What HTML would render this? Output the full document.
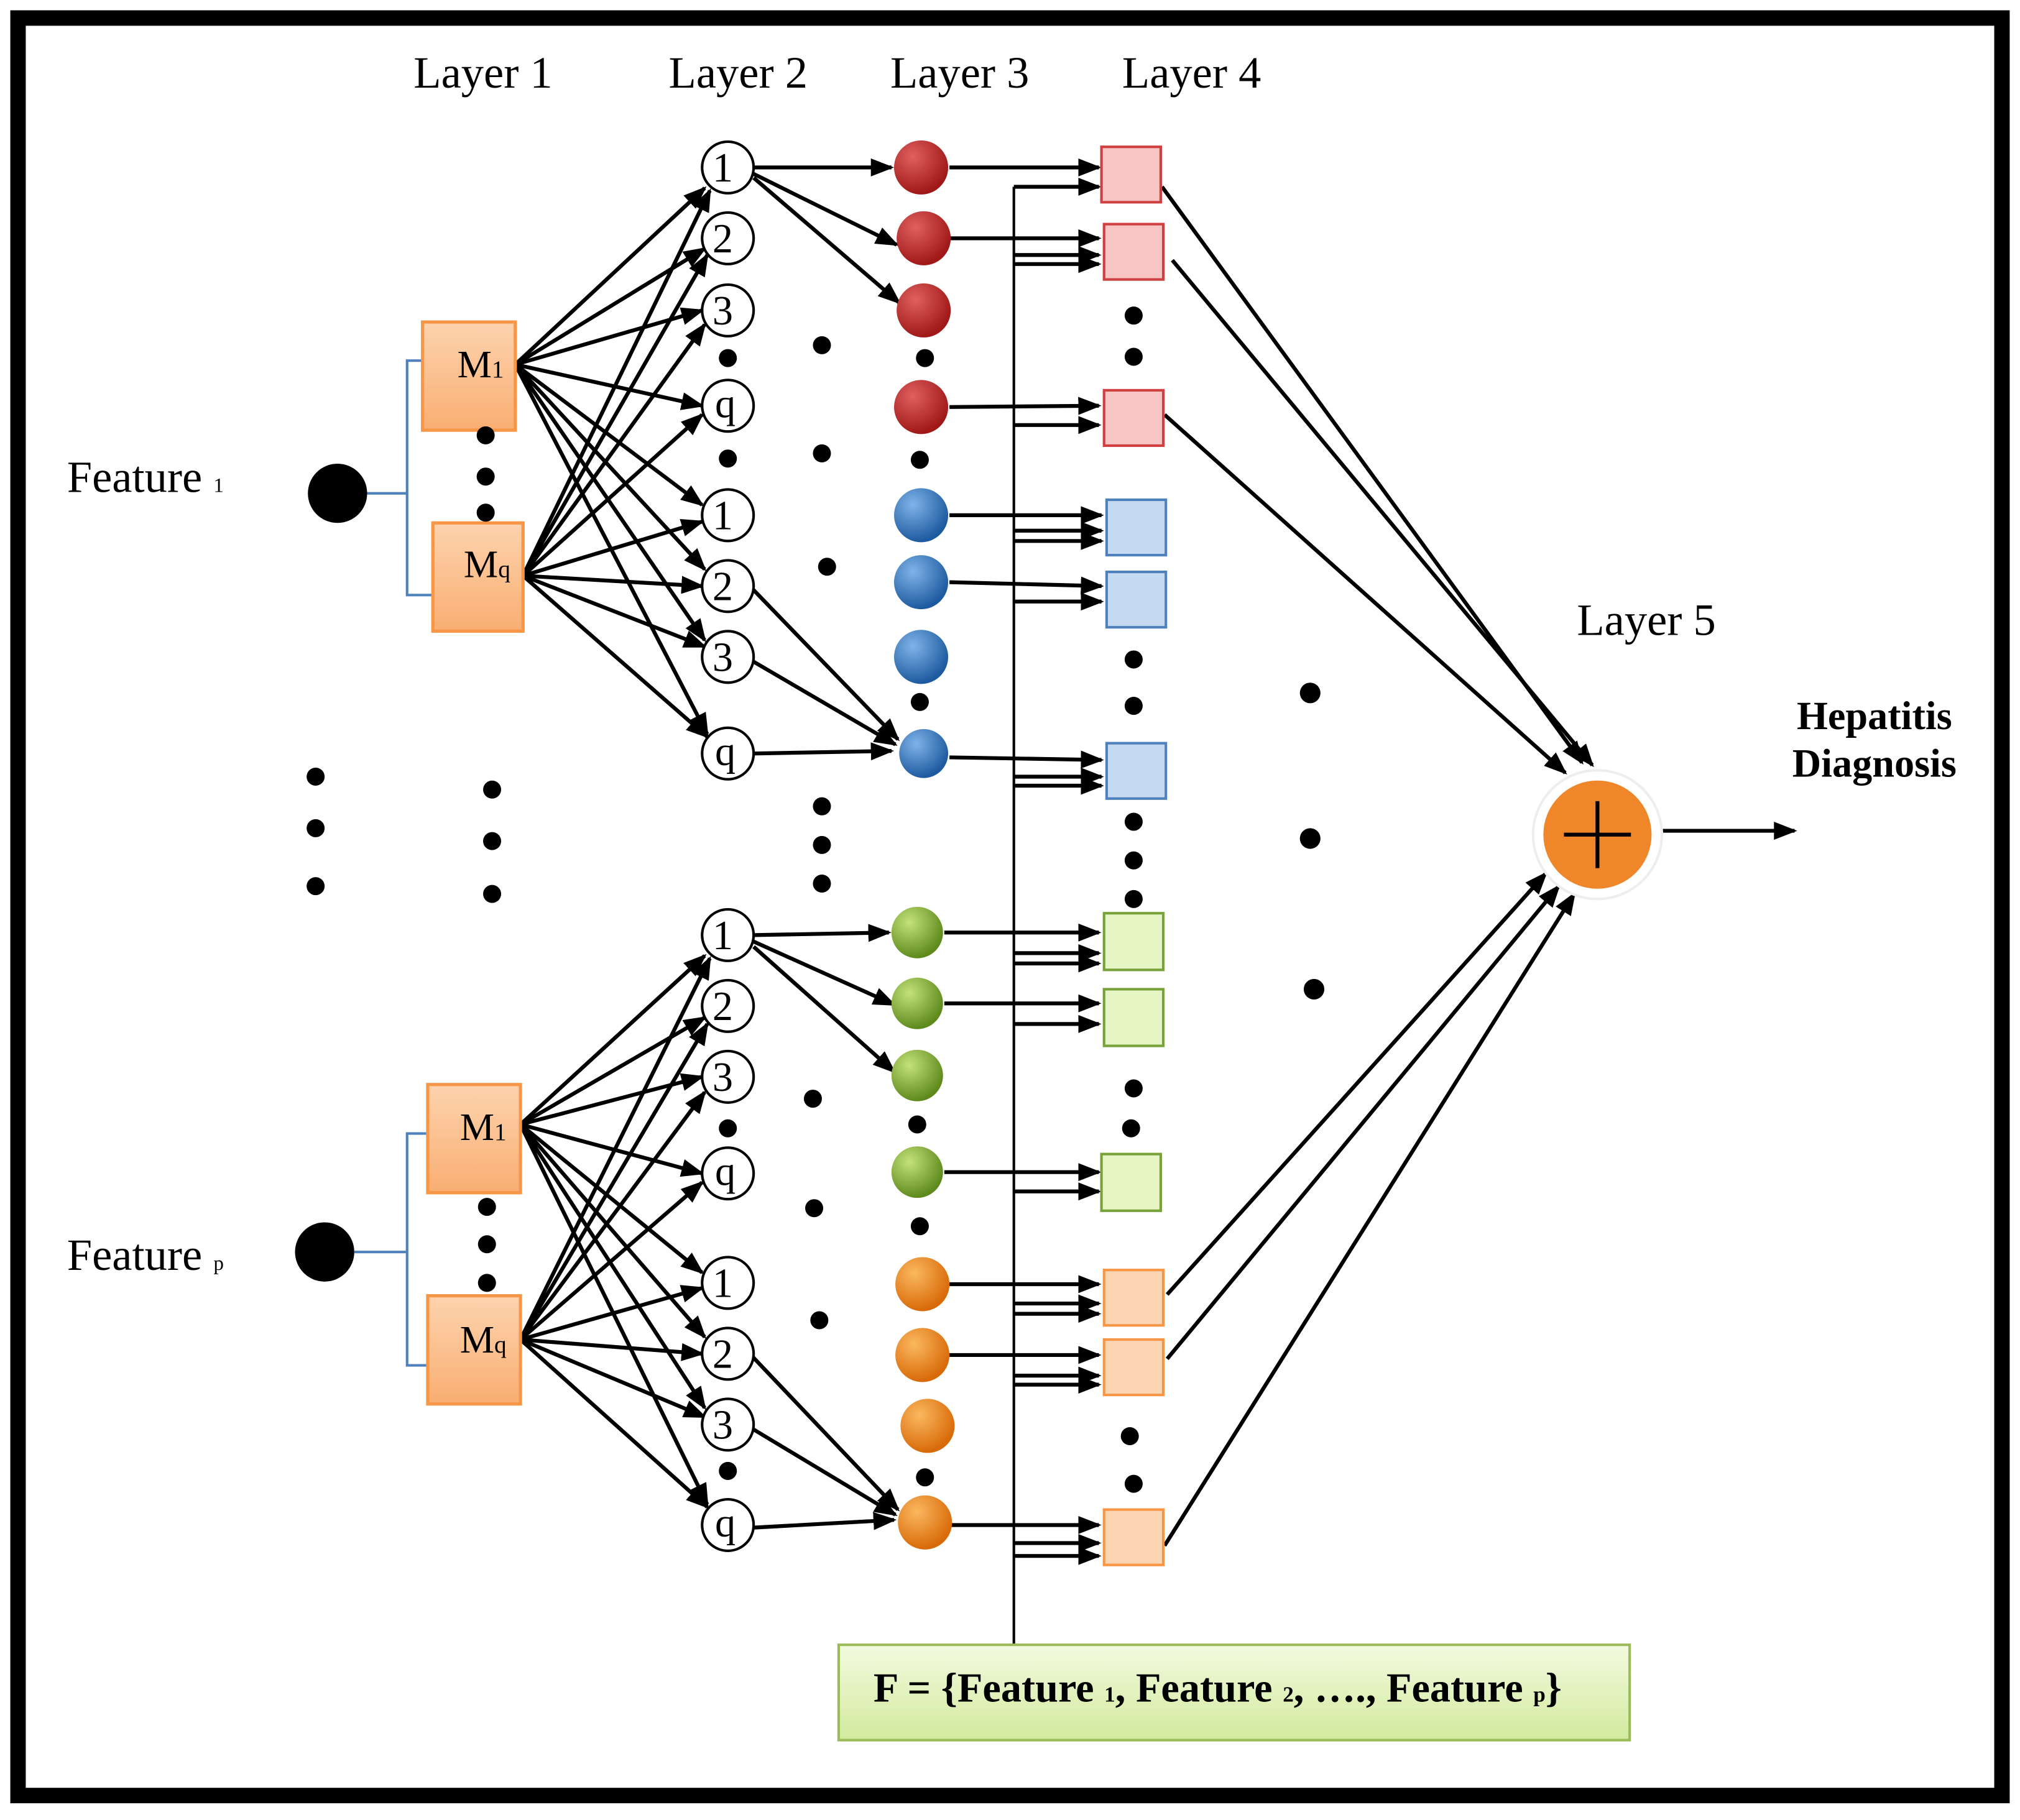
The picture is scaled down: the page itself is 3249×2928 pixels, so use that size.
<!DOCTYPE html>
<html><head><meta charset="utf-8"><style>html,body{margin:0;padding:0;background:#fff}svg{display:block}</style></head><body>
<svg width="3249" height="2928" viewBox="0 0 1568 1413" preserveAspectRatio="none" xmlns="http://www.w3.org/2000/svg" font-family="Liberation Serif, serif">
<defs>
<marker id="a" markerWidth="18" markerHeight="14" refX="16" refY="7" orient="auto" markerUnits="userSpaceOnUse"><path d="M0,0 L18,7 L0,14 Z" fill="#000"/></marker>
<radialGradient id="gr" cx="35%" cy="30%" r="70%"><stop offset="0" stop-color="#e06060"/><stop offset="1" stop-color="#a01818"/></radialGradient>
<radialGradient id="gb" cx="35%" cy="30%" r="70%"><stop offset="0" stop-color="#7fb4e8"/><stop offset="1" stop-color="#1e5aa0"/></radialGradient>
<radialGradient id="gg" cx="35%" cy="30%" r="70%"><stop offset="0" stop-color="#c4e27a"/><stop offset="1" stop-color="#5e8a1c"/></radialGradient>
<radialGradient id="go" cx="35%" cy="30%" r="70%"><stop offset="0" stop-color="#fbb860"/><stop offset="1" stop-color="#d86a08"/></radialGradient>
<linearGradient id="bo" x1="0" y1="0" x2="0" y2="1"><stop offset="0" stop-color="#fdd3ae"/><stop offset="1" stop-color="#f9ae72"/></linearGradient>
<linearGradient id="bf" x1="0" y1="0" x2="0" y2="1"><stop offset="0" stop-color="#f3fadf"/><stop offset="1" stop-color="#d2ea9e"/></linearGradient>
</defs>
<rect x="0" y="0" width="1568" height="1413" fill="#fff"/>
<rect x="14" y="14" width="1540" height="1380" fill="none" stroke="#000" stroke-width="12"/>
<g font-size="35" text-anchor="middle">
<text x="375" y="68">Layer 1</text><text x="573" y="68">Layer 2</text><text x="745" y="68">Layer 3</text><text x="925" y="68">Layer 4</text>
<text x="1278" y="493">Layer 5</text>
</g>
<g font-size="31" font-weight="bold" text-anchor="middle"><text x="1455" y="566">Hepatitis</text><text x="1455" y="603">Diagnosis</text></g>
<text x="52" y="382" font-size="35">Feature <tspan font-size="16">1</tspan></text>
<text x="52" y="986" font-size="35">Feature <tspan font-size="16">p</tspan></text>
<circle cx="262" cy="383" r="23"/><circle cx="252" cy="972" r="23"/>
<g stroke="#4f81bd" stroke-width="2" fill="none">
<path d="M285,383 H316 M330,280 H316 V462 H336"/>
<path d="M275,972 H316 M332,880 H316 V1060 H332"/>
</g>
<g stroke="#000" stroke-width="3" marker-end="url(#a)" fill="none">
<path d="M400,283 L547,146"/><path d="M400,283 L547,193"/><path d="M400,283 L545,241"/><path d="M400,283 L545,315"/><path d="M400,283 L545,392"/><path d="M400,283 L547,442"/><path d="M400,283 L547,497"/><path d="M400,283 L549,570"/>
<path d="M406,447 L551,148"/><path d="M406,447 L549,198"/><path d="M406,447 L547,252"/><path d="M406,447 L545,322"/><path d="M406,447 L545,405"/><path d="M406,447 L545,455"/><path d="M406,447 L547,502"/><path d="M406,447 L549,572"/>
<path d="M404,873 L547,742"/><path d="M404,873 L547,790"/><path d="M404,873 L545,836"/><path d="M404,873 L545,911"/><path d="M404,873 L545,988"/><path d="M404,873 L547,1038"/><path d="M404,873 L547,1093"/><path d="M404,873 L549,1168"/>
<path d="M404,1040 L551,744"/><path d="M404,1040 L549,795"/><path d="M404,1040 L547,848"/><path d="M404,1040 L545,918"/><path d="M404,1040 L545,1000"/><path d="M404,1040 L545,1051"/><path d="M404,1040 L547,1100"/><path d="M404,1040 L549,1170"/>
<path d="M585,130 L692,130"/><path d="M585,135 L696,190"/><path d="M585,138 L698,235"/>
<path d="M582,455 L697,574"/><path d="M582,512 L695,578"/><path d="M585,585 L692,583"/>
<path d="M585,726 L690,724"/><path d="M585,731 L694,780"/><path d="M585,735 L694,832"/>
<path d="M582,1051 L697,1172"/><path d="M582,1108 L695,1176"/><path d="M585,1186 L694,1180"/>
<path d="M737,130 L853,130"/><path d="M737,185 L853,185"/><path d="M737,316 L853,315"/>
<path d="M737,400 L855,400"/><path d="M737,452 L855,455"/><path d="M737,588 L855,590"/>
<path d="M733,724 L853,724"/><path d="M733,779 L853,779"/><path d="M733,910 L853,910"/>
<path d="M737,997 L853,997"/><path d="M737,1052 L853,1052"/><path d="M737,1184 L853,1184"/>
<path d="M787,145 L853,145"/><path d="M787,198 L853,198"/><path d="M787,205 L853,205"/><path d="M787,330 L853,330"/>
<path d="M787,412 L855,412"/><path d="M787,420 L855,420"/><path d="M787,467 L855,467"/><path d="M787,603 L855,603"/><path d="M787,610 L855,610"/>
<path d="M787,740 L853,740"/><path d="M787,748 L853,748"/><path d="M787,795 L853,795"/><path d="M787,925 L853,925"/>
<path d="M787,1012 L853,1012"/><path d="M787,1020 L853,1020"/><path d="M787,1068 L853,1068"/><path d="M787,1075 L853,1075"/><path d="M787,1198 L853,1198"/><path d="M787,1208 L853,1208"/>
<path d="M902,145 L1228,592"/><path d="M910,202 L1236,594"/><path d="M904,322 L1215,600"/>
<path d="M906,1005 L1200,678"/><path d="M906,1055 L1210,688"/><path d="M904,1200 L1222,694"/>
<path d="M1290,645 L1393,645"/>
</g>
<line x1="787" y1="145" x2="787" y2="1278" stroke="#000" stroke-width="2"/>
<g fill="url(#bo)" stroke="#f79646" stroke-width="2.5">
<rect x="328" y="250" width="72" height="84"/><rect x="336" y="406" width="70" height="84"/>
<rect x="332" y="842" width="72" height="84"/><rect x="332" y="1006" width="72" height="84"/>
</g>
<g font-size="30"><text x="355" y="293">M<tspan font-size="19">1</tspan></text><text x="360" y="448">M<tspan font-size="19">q</tspan></text>
<text x="357" y="885">M<tspan font-size="19">1</tspan></text><text x="357" y="1050">M<tspan font-size="19">q</tspan></text></g>
<g fill="#fff" stroke="#000" stroke-width="2">
<circle cx="565" cy="130" r="20"/><circle cx="565" cy="185" r="20"/><circle cx="565" cy="241" r="20"/><circle cx="565" cy="315" r="20"/><circle cx="565" cy="400" r="20"/><circle cx="565" cy="455" r="20"/><circle cx="565" cy="510" r="20"/><circle cx="565" cy="585" r="20"/>
<circle cx="565" cy="726" r="20"/><circle cx="565" cy="781" r="20"/><circle cx="565" cy="836" r="20"/><circle cx="565" cy="911" r="20"/><circle cx="565" cy="996" r="20"/><circle cx="565" cy="1051" r="20"/><circle cx="565" cy="1106" r="20"/><circle cx="565" cy="1184" r="20"/>
</g>
<g font-size="32" text-anchor="middle">
<text x="561" y="141">1</text><text x="561" y="196">2</text><text x="561" y="252">3</text><text x="563" y="324">q</text><text x="561" y="411">1</text><text x="561" y="466">2</text><text x="561" y="521">3</text><text x="563" y="594">q</text>
<text x="561" y="737">1</text><text x="561" y="792">2</text><text x="561" y="847">3</text><text x="563" y="920">q</text><text x="561" y="1007">1</text><text x="561" y="1062">2</text><text x="561" y="1117">3</text><text x="563" y="1193">q</text>
</g>
<g fill="url(#gr)"><circle cx="715" cy="130" r="21"/><circle cx="717" cy="185" r="21"/><circle cx="717" cy="241" r="21"/><circle cx="715" cy="316" r="21"/></g>
<g fill="url(#gb)"><circle cx="715" cy="400" r="21"/><circle cx="715" cy="452" r="21"/><circle cx="715" cy="510" r="21"/><circle cx="717" cy="585" r="19"/></g>
<g fill="url(#gg)"><circle cx="712" cy="724" r="20"/><circle cx="712" cy="779" r="20"/><circle cx="712" cy="835" r="20"/><circle cx="712" cy="910" r="20"/></g>
<g fill="url(#go)"><circle cx="716" cy="997" r="21"/><circle cx="716" cy="1052" r="21"/><circle cx="720" cy="1107" r="21"/><circle cx="718" cy="1182" r="21"/></g>
<g fill="#f9c4c4" stroke="#d04040" stroke-width="2"><rect x="855" y="114" width="46" height="43"/><rect x="857" y="174" width="46" height="43"/><rect x="857" y="303" width="46" height="43"/></g>
<g fill="#c5d9f1" stroke="#4f81bd" stroke-width="2"><rect x="859" y="388" width="46" height="43"/><rect x="859" y="444" width="46" height="43"/><rect x="859" y="577" width="46" height="43"/></g>
<g fill="#e6f5c4" stroke="#77a33a" stroke-width="2"><rect x="857" y="709" width="46" height="44"/><rect x="857" y="768" width="46" height="44"/><rect x="855" y="896" width="46" height="44"/></g>
<g fill="#fcd5b4" stroke="#f79646" stroke-width="2"><rect x="857" y="986" width="46" height="43"/><rect x="857" y="1040" width="46" height="43"/><rect x="857" y="1172" width="46" height="43"/></g>
<g fill="#000">
<circle cx="565" cy="278" r="7"/><circle cx="565" cy="356" r="7"/><circle cx="638" cy="268" r="7"/><circle cx="638" cy="352" r="7"/><circle cx="642" cy="440" r="7"/>
<circle cx="718" cy="278" r="7"/><circle cx="714" cy="357" r="7"/><circle cx="714" cy="545" r="7"/>
<circle cx="377" cy="338" r="7"/><circle cx="377" cy="370" r="7"/><circle cx="377" cy="398" r="7"/>
<circle cx="880" cy="245" r="7"/><circle cx="880" cy="277" r="7"/><circle cx="880" cy="512" r="7"/><circle cx="880" cy="548" r="7"/>
<circle cx="880" cy="638" r="7"/><circle cx="880" cy="668" r="7"/><circle cx="880" cy="698" r="7"/>
<circle cx="1017" cy="538" r="8"/><circle cx="1017" cy="651" r="8"/><circle cx="1020" cy="768" r="8"/>
<circle cx="245" cy="603" r="7"/><circle cx="245" cy="643" r="7"/><circle cx="245" cy="688" r="7"/>
<circle cx="382" cy="613" r="7"/><circle cx="382" cy="653" r="7"/><circle cx="382" cy="694" r="7"/>
<circle cx="638" cy="626" r="7"/><circle cx="638" cy="656" r="7"/><circle cx="638" cy="686" r="7"/>
<circle cx="565" cy="876" r="7"/><circle cx="631" cy="853" r="7"/><circle cx="632" cy="938" r="7"/><circle cx="636" cy="1025" r="7"/>
<circle cx="712" cy="873" r="7"/><circle cx="714" cy="952" r="7"/><circle cx="718" cy="1147" r="7"/><circle cx="565" cy="1142" r="7"/>
<circle cx="378" cy="937" r="7"/><circle cx="378" cy="966" r="7"/><circle cx="378" cy="996" r="7"/>
<circle cx="880" cy="845" r="7"/><circle cx="878" cy="876" r="7"/><circle cx="877" cy="1115" r="7"/><circle cx="880" cy="1152" r="7"/>
</g>
<circle cx="1240" cy="648" r="50" fill="#fff" stroke="#eee" stroke-width="2"/>
<circle cx="1240" cy="648" r="42" fill="#f0862a"/>
<path d="M1240,622 V674 M1214,648 H1266" stroke="#000" stroke-width="3"/>
<rect x="651" y="1277" width="614" height="74" fill="url(#bf)" stroke="#9bbb59" stroke-width="2"/>
<text x="678" y="1321" font-size="32" font-weight="bold">F = {Feature <tspan font-size="17">1</tspan>, Feature <tspan font-size="17">2</tspan>, …., Feature <tspan font-size="17">p</tspan>}</text>
</svg>
</body></html>
